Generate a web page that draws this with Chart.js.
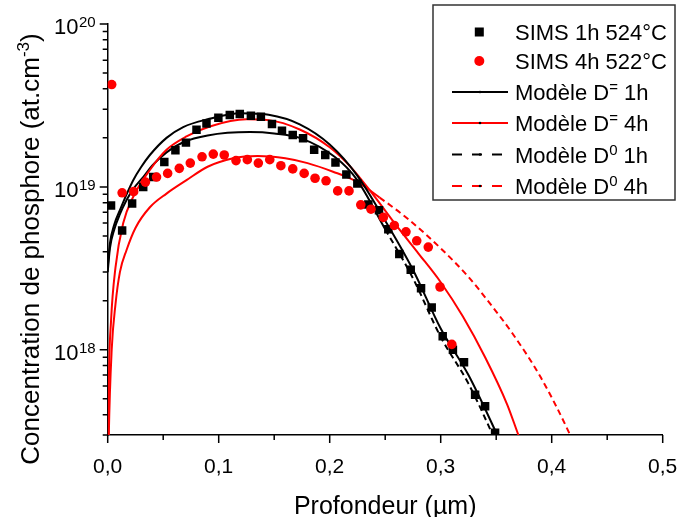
<!DOCTYPE html>
<html>
<head>
<meta charset="utf-8">
<script src="https://cdn.jsdelivr.net/npm/chart.js@4/dist/chart.umd.min.js"></script>
<style>
html, body { margin: 0; padding: 0; background: #fff; }
#wrap { width: 680px; height: 517px; }
</style>
</head>
<body>
<div id="wrap"><canvas id="profil" width="680" height="517"></canvas></div>
<script>
var FONT = '"Liberation Sans", Arial, Helvetica, sans-serif';

// SIMS profiles (depth in µm, concentration in at.cm-3)
var sims1hDepth = [0.003, 0.013, 0.022, 0.032, 0.041, 0.051, 0.061, 0.0705, 0.080, 0.089, 0.0997, 0.110, 0.119, 0.129, 0.138, 0.148, 0.157, 0.1667, 0.176, 0.186, 0.196, 0.2052, 0.215, 0.2249, 0.2348, 0.2444, 0.2528, 0.2627, 0.273, 0.2823, 0.2919, 0.3018, 0.311, 0.321, 0.331, 0.340, 0.349];
var sims1hConc = [7.7e18, 5.4e18, 7.9e18, 1.0e19, 1.15e19, 1.42e19, 1.68e19, 1.87e19, 2.24e19, 2.45e19, 2.66e19, 2.76e19, 2.8e19, 2.73e19, 2.7e19, 2.43e19, 2.21e19, 2.08e19, 1.99e19, 1.69e19, 1.57e19, 1.41e19, 1.19e19, 1.05e19, 7.8e18, 7.2e18, 5.5e18, 3.88e18, 3.1e18, 2.39e18, 1.82e18, 1.21e18, 1.0e18, 8.4e17, 5.3e17, 4.5e17, 3.1e17];

var sims4hDepth = [0.0036, 0.013, 0.0234, 0.034, 0.044, 0.054, 0.0645, 0.0744, 0.085, 0.0951, 0.105, 0.1156, 0.1258, 0.1357, 0.146, 0.156, 0.1667, 0.177, 0.1868, 0.1967, 0.2072, 0.2174, 0.228, 0.2372, 0.2483, 0.2582, 0.2687, 0.2784, 0.2888, 0.2994, 0.310];
var sims4hConc = [4.25e19, 9.2e18, 9.35e18, 1.07e19, 1.15e19, 1.21e19, 1.30e19, 1.40e19, 1.53e19, 1.59e19, 1.57e19, 1.45e19, 1.47e19, 1.40e19, 1.47e19, 1.35e19, 1.29e19, 1.21e19, 1.13e19, 1.09e19, 9.45e18, 9.45e18, 7.76e18, 7.3e18, 6.5e18, 5.8e18, 5.3e18, 4.67e18, 4.27e18, 2.43e18, 1.08e18];

// Model curves
var dm1hDepth = [0, 0.002, 0.006, 0.011, 0.017, 0.023, 0.030, 0.038, 0.053, 0.068, 0.090, 0.120, 0.145, 0.173, 0.200, 0.225, 0.250, 0.275, 0.300, 0.325, 0.350, 0.360];
var dm1hConc = [3.2e18, 4.5e18, 5.9e18, 7.2e18, 9.0e18, 1.1e19, 1.32e19, 1.57e19, 2.0e19, 2.33e19, 2.6e19, 2.83e19, 2.77e19, 2.42e19, 1.82e19, 1.17e19, 6.2e18, 3.1e18, 1.35e18, 7.0e17, 3.1e17, 2.2e17];

var dm4hDepth = [0, 0.001, 0.003, 0.007, 0.014, 0.023, 0.038, 0.053, 0.071, 0.092, 0.125, 0.145, 0.173, 0.200, 0.220, 0.240, 0.260, 0.280, 0.300, 0.320, 0.340, 0.360, 0.370, 0.380];
var dm4hConc = [1e17, 6e17, 1.5e18, 3.2e18, 6.0e18, 8.7e18, 1.27e19, 1.69e19, 2.04e19, 2.35e19, 2.6e19, 2.57e19, 2.25e19, 1.75e19, 1.3e19, 8.8e18, 5.8e18, 3.9e18, 2.6e18, 1.6e18, 9.0e17, 4.6e17, 3.0e17, 2.0e17];

var d01hDepth = [0, 0.002, 0.006, 0.011, 0.017, 0.023, 0.032, 0.040, 0.053, 0.068, 0.090, 0.128, 0.150, 0.173, 0.205, 0.224, 0.250, 0.275, 0.300, 0.325, 0.350, 0.360];
var d01hConc = [3.0e18, 4.2e18, 5.5e18, 6.8e18, 8.3e18, 9.7e18, 1.15e19, 1.35e19, 1.63e19, 1.88e19, 2.07e19, 2.17e19, 2.13e19, 2.0e19, 1.52e19, 1.12e19, 5.5e18, 2.75e18, 1.2e18, 6.2e17, 2.7e17, 1.9e17];

var d04hDepth = [0, 0.001, 0.0036, 0.007, 0.011, 0.017, 0.025, 0.038, 0.053, 0.071, 0.090, 0.113, 0.135, 0.160, 0.180, 0.203, 0.224, 0.245, 0.270, 0.300, 0.325, 0.345, 0.365, 0.390, 0.4166, 0.425];
var d04hConc = [1e17, 3e17, 1.0e18, 1.9e18, 3.0e18, 4.1e18, 5.6e18, 7.5e18, 9.1e18, 1.1e19, 1.33e19, 1.5e19, 1.55e19, 1.5e19, 1.4e19, 1.24e19, 1.08e19, 8.6e18, 6.4e18, 4.2e18, 2.8e18, 1.9e18, 1.25e18, 6.8e17, 3.0e17, 2.2e17];

// Axis ticks
var xTicks = [0, 0.1, 0.2, 0.3, 0.4, 0.5];
var xTickLabels = ['0,0', '0,1', '0,2', '0,3', '0,4', '0,5'];
var xMinorTicks = [0.05, 0.15, 0.25, 0.35, 0.45];
var yDecades = [1e18, 1e19, 1e20];
var yDecadeExp = ['18', '19', '20'];

// Legend rows: label pieces alternate normal / superscript
var legendRows = [
    { kind: 'rect', color: '#000000', parts: ['SIMS 1h 524°C'] },
    { kind: 'circle', color: '#ff0000', parts: ['SIMS 4h 522°C'] },
    { kind: 'line', color: '#000000', dash: [], parts: ['Modèle D', '=', ' 1h'] },
    { kind: 'line', color: '#ff0000', dash: [], parts: ['Modèle D', '=', ' 4h'] },
    { kind: 'line', color: '#000000', dash: [10, 10], parts: ['Modèle D', '0', ' 1h'] },
    { kind: 'line', color: '#ff0000', dash: [10, 10], parts: ['Modèle D', '0', ' 4h'] }
];

function pairs(xs, ys) {
    return xs.map(function (x, i) { return { x: x, y: ys[i] }; });
}

// text with alternating superscript pieces, starting at x on baseline y
function drawRich(ctx, parts, x, y, size, supSize, rise) {
    ctx.textAlign = 'left';
    ctx.textBaseline = 'alphabetic';
    var cx = x;
    parts.forEach(function (p, i) {
        ctx.font = (i % 2 ? supSize : size) + 'px ' + FONT;
        ctx.fillText(p, cx, i % 2 ? y - rise : y);
        cx += ctx.measureText(p).width;
    });
}

function richWidth(ctx, parts, size, supSize) {
    var w = 0;
    parts.forEach(function (p, i) {
        ctx.font = (i % 2 ? supSize : size) + 'px ' + FONT;
        w += ctx.measureText(p).width;
    });
    return w;
}

// dashes only show on the steep tail of the D0 curves
function tailDash(c) {
    return c.p0.parsed.x >= 0.235 ? [6, 4] : undefined;
}

var axisDecor = {
    id: 'axisDecor',
    afterDraw: function (chart) {
        var ctx = chart.ctx;
        var xs = chart.scales.x, ys = chart.scales.y;
        var area = chart.chartArea;
        ctx.save();
        ctx.strokeStyle = '#000';
        ctx.fillStyle = '#000';
        ctx.lineWidth = 1.5;

        // x ticks and labels
        ctx.beginPath();
        xTicks.forEach(function (v) {
            var px = xs.getPixelForValue(v);
            ctx.moveTo(px, area.bottom); ctx.lineTo(px, area.bottom + 8);
        });
        xMinorTicks.forEach(function (v) {
            var px = xs.getPixelForValue(v);
            ctx.moveTo(px, area.bottom); ctx.lineTo(px, area.bottom + 5);
        });
        ctx.stroke();
        ctx.font = '21px ' + FONT;
        ctx.textAlign = 'center';
        ctx.textBaseline = 'alphabetic';
        xTicks.forEach(function (v, i) {
            ctx.fillText(xTickLabels[i], xs.getPixelForValue(v), area.bottom + 38);
        });

        // y ticks: decades plus 2..9 minors
        ctx.beginPath();
        for (var e = 17; e <= 19; e++) {
            for (var k = 1; k <= 9; k++) {
                var val = k * Math.pow(10, e);
                if (val < ys.min * 0.999 || val > ys.max * 1.001) continue;
                var py = ys.getPixelForValue(val);
                ctx.moveTo(area.left, py);
                ctx.lineTo(area.left - (k === 1 ? 8 : 5), py);
            }
        }
        var pyTop = ys.getPixelForValue(1e20);
        ctx.moveTo(area.left, pyTop); ctx.lineTo(area.left - 8, pyTop);
        ctx.stroke();

        yDecades.forEach(function (v, i) {
            var py = ys.getPixelForValue(v);
            ctx.font = '22px ' + FONT;
            ctx.textAlign = 'right';
            ctx.fillText('10', 78.5, py + 10);
            ctx.font = '15px ' + FONT;
            ctx.textAlign = 'left';
            ctx.fillText(yDecadeExp[i], 79, py + 3);
        });

        // axis titles
        ctx.font = '25px ' + FONT;
        ctx.textAlign = 'center';
        ctx.fillText('Profondeur (µm)', (area.left + area.right) / 2, 514);

        var yTitle = ['Concentration de phosphore (at.cm', '-3', ')'];
        ctx.save();
        ctx.translate(39, 249);
        ctx.rotate(-Math.PI / 2);
        var tw = richWidth(ctx, yTitle, 26, 17);
        drawRich(ctx, yTitle, -tw / 2, 0, 26, 17, 10);
        ctx.restore();

        // legend box
        var bx = 433, by = 5, bw = 242, bh = 195;
        ctx.fillStyle = '#fff';
        ctx.fillRect(bx, by, bw, bh);
        ctx.strokeStyle = '#333';
        ctx.lineWidth = 1.5;
        ctx.strokeRect(bx, by, bw, bh);

        var rowY = [32, 61, 92, 123, 154.5, 186];
        legendRows.forEach(function (row, i) {
            var cy = rowY[i];
            ctx.fillStyle = row.color;
            ctx.strokeStyle = row.color;
            if (row.kind === 'rect') {
                ctx.fillRect(479.3 - 4.5, cy - 4.5, 9, 9);
            } else if (row.kind === 'circle') {
                ctx.beginPath();
                ctx.arc(479.3, cy, 5, 0, Math.PI * 2);
                ctx.fill();
            } else {
                ctx.lineWidth = 2;
                ctx.setLineDash(row.dash);
                ctx.beginPath();
                ctx.moveTo(452, cy); ctx.lineTo(508, cy);
                ctx.stroke();
                ctx.setLineDash([]);
                ctx.fillStyle = '#000';
                ctx.beginPath();
                ctx.arc(480, cy, 1.3, 0, Math.PI * 2);
                ctx.fill();
            }
            ctx.fillStyle = '#000';
            drawRich(ctx, row.parts, 515, cy + 8, 22, 15, 8);
        });
        ctx.restore();
    }
};

var curveBase = {
    type: 'line',
    borderWidth: 2,
    pointRadius: 0,
    pointHoverRadius: 0,
    fill: false,
    cubicInterpolationMode: 'monotone'
};

new Chart(document.getElementById('profil'), {
    type: 'scatter',
    data: {
        datasets: [
            { label: 'SIMS 4h 522°C', data: pairs(sims4hDepth, sims4hConc), pointStyle: 'circle', pointRadius: 4.8, backgroundColor: '#ff0000', borderWidth: 0, order: 0 },
            { label: 'SIMS 1h 524°C', data: pairs(sims1hDepth, sims1hConc), pointStyle: 'rect', pointRadius: 6, backgroundColor: '#000000', borderWidth: 0, order: 1 },
            Object.assign({}, curveBase, { label: 'Modèle D= 1h', data: pairs(dm1hDepth, dm1hConc), borderColor: '#000000', order: 2 }),
            Object.assign({}, curveBase, { label: 'Modèle D= 4h', data: pairs(dm4hDepth, dm4hConc), borderColor: '#ff0000', order: 3 }),
            Object.assign({}, curveBase, { label: 'Modèle D0 1h', data: pairs(d01hDepth, d01hConc), borderColor: '#000000', order: 4, segment: { borderDash: tailDash } }),
            Object.assign({}, curveBase, { label: 'Modèle D0 4h', data: pairs(d04hDepth, d04hConc), borderColor: '#ff0000', order: 5, segment: { borderDash: tailDash } })
        ]
    },
    options: {
        responsive: false,
        animation: false,
        devicePixelRatio: 1,
        layout: { padding: { left: 107.7, right: 17.3, top: 24, bottom: 82 } },
        plugins: { legend: { display: false }, tooltip: { enabled: false } },
        scales: {
            x: {
                type: 'linear', min: 0, max: 0.5,
                grid: { display: false, drawTicks: false },
                border: { display: true, color: '#000', width: 1.5 },
                ticks: { display: false }
            },
            y: {
                type: 'logarithmic', min: 3e17, max: 1e20,
                grid: { display: false, drawTicks: false },
                border: { display: true, color: '#000', width: 1.5 },
                ticks: { display: false }
            }
        }
    },
    plugins: [axisDecor]
});
</script>
</body>
</html>
